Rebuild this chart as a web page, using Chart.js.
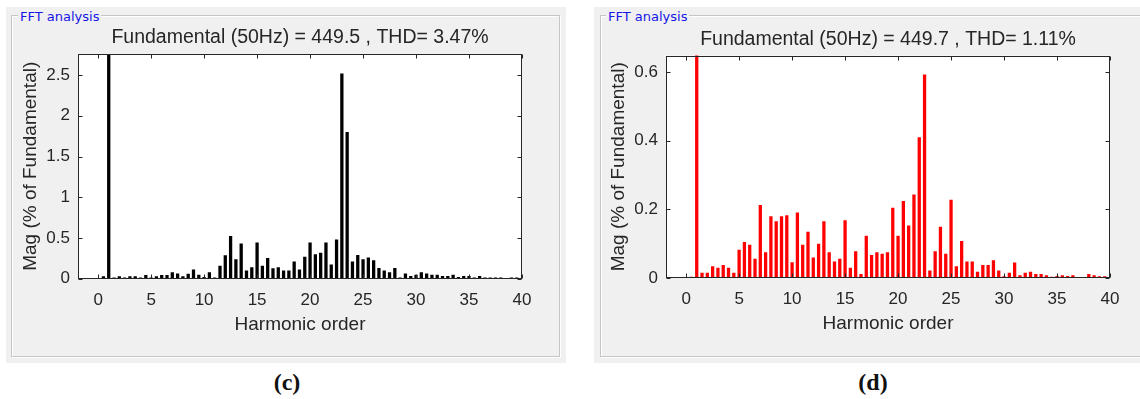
<!DOCTYPE html>
<html>
<head>
<meta charset="utf-8">
<script src="https://cdn.jsdelivr.net/npm/chart.js@4.4.1/dist/chart.umd.min.js"></script>
<style>
  html, body { margin:0; padding:0; background:#ffffff; }
  body { width:1140px; height:399px; position:relative; overflow:hidden; font-family:"Liberation Sans", Arial, sans-serif; }
  .panel { position:absolute; background:#f0f0f0; }
  .frame { position:absolute; border:1px solid #c6c6c6; box-shadow: inset 1px 1px 0 #ffffff, 1px 1px 0 #ffffff; }
  .legend { position:absolute; font-family:"DejaVu Sans", sans-serif; font-size:13px; color:#1515e6; background:#f0f0f0; padding:0 2px; line-height:14px; }
  canvas { position:absolute; }
  .cap { position:absolute; font-family:"Liberation Serif", "Times New Roman", serif; font-weight:bold; font-size:24px; color:#111; width:60px; text-align:center; }
</style>
</head>
<body>
<div class="panel" style="left:6px; top:7px; width:560px; height:356px;"></div>
<div class="frame" style="left:11px; top:15px; width:547px; height:340px;"></div>
<div class="legend" style="left:18px; top:10px;">FFT analysis</div>

<div class="panel" style="left:594px; top:7px; width:546px; height:356px;"></div>
<div class="frame" style="left:600px; top:15px; width:560px; height:340px;"></div>
<div class="legend" style="left:606px; top:10px;">FFT analysis</div>

<canvas id="chartC" width="560" height="356" style="left:6px; top:7px;"></canvas>
<canvas id="chartD" width="546" height="356" style="left:594px; top:7px;"></canvas>

<div class="cap" style="left:257px; top:369px;">(c)</div>
<div class="cap" style="left:843px; top:369px;">(d)</div>

<script>
// ---- data ----
const harmonics = [0,0.5,1,1.5,2,2.5,3,3.5,4,4.5,5,5.5,6,6.5,7,7.5,8,8.5,9,9.5,
  10,10.5,11,11.5,12,12.5,13,13.5,14,14.5,15,15.5,16,16.5,17,17.5,18,18.5,19,19.5,
  20,20.5,21,21.5,22,22.5,23,23.5,24,24.5,25,25.5,26,26.5,27,27.5,28,28.5,29,29.5,
  30,30.5,31,31.5,32,32.5,33,33.5,34,34.5,35,35.5,36,36.5,37,37.5,38,38.5,39,39.5,40];

const magC = [0.01,0.03,100,0.016,0.03,0.016,0.03,0.03,0.016,0.045,
  0.016,0.03,0.045,0.045,0.078,0.065,0.03,0.062,0.112,0.048,
  0.02,0.08,0.016,0.16,0.288,0.525,0.238,0.432,0.1,0.142,
  0.445,0.16,0.255,0.128,0.142,0.1,0.1,0.21,0.112,0.27,
  0.445,0.30,0.32,0.445,0.175,0.48,2.52,1.8,0.21,0.29,
  0.24,0.26,0.225,0.13,0.10,0.08,0.13,0.016,0.065,0.033,
  0.05,0.08,0.065,0.05,0.05,0.033,0.033,0.05,0.02,0.033,
  0.033,0.016,0.033,0.016,0.016,0.016,0.016,0.003,0.016,0.016,0.005];

const magD = [0.002,0.004,100,0.0155,0.0155,0.034,0.03,0.038,0.03,0.0155,
  0.082,0.105,0.097,0.056,0.213,0.075,0.18,0.165,0.18,0.183,
  0.046,0.191,0.097,0.135,0.06,0.10,0.165,0.075,0.048,0.056,
  0.168,0.03,0.078,0.012,0.123,0.067,0.075,0.071,0.075,0.205,
  0.123,0.224,0.153,0.243,0.41,0.593,0.022,0.078,0.149,0.071,
  0.228,0.034,0.108,0.048,0.048,0.018,0.038,0.038,0.052,0.022,
  0.005,0.015,0.045,0.008,0.015,0.018,0.012,0.012,0.008,0.004,
  0.006,0.008,0.006,0.008,0,0,0.012,0.008,0.005,0.005,0];

const xTicks = [0,5,10,15,20,25,30,35,40];
const yTicksC = [0,0.5,1,1.5,2,2.5];
const yTicksD = [0,0.2,0.4,0.6];

const titleC = 'Fundamental (50Hz) = 449.5 , THD= 3.47%';
const titleD = 'Fundamental (50Hz) = 449.7 , THD= 1.11%';

// ---- drawing ----
const FONT = '"Liberation Sans", Arial, Helvetica, sans-serif';
const TXT = '#262626';

const boxPlugin = {
  id: 'boxPlugin',
  beforeDatasetsDraw(chart) {
    const {ctx, chartArea: a} = chart;
    ctx.save();
    ctx.fillStyle = '#ffffff';
    ctx.fillRect(a.left, a.top, a.right - a.left, a.bottom - a.top);
    ctx.restore();
  },
  afterDatasetsDraw(chart) {
    const {ctx, chartArea: a, scales} = chart;
    const x = scales.x, y = scales.y;
    ctx.save();
    ctx.strokeStyle = TXT;
    ctx.lineWidth = 1;
    const L = Math.round(a.left) + 0.5, R = Math.round(a.right) - 0.5;
    const T = Math.round(a.top) + 0.5, B = Math.round(a.bottom) - 0.5;
    ctx.strokeRect(L, T, R - L, B - T);
    ctx.beginPath();
    x.ticks.forEach(t => {
      const px = Math.round(x.getPixelForValue(t.value)) + 0.5;
      ctx.moveTo(px, B); ctx.lineTo(px, B - 4);
      ctx.moveTo(px, T); ctx.lineTo(px, T + 4);
    });
    y.ticks.forEach(t => {
      const py = Math.round(y.getPixelForValue(t.value)) + 0.5;
      ctx.moveTo(L, py); ctx.lineTo(L + 4, py);
      ctx.moveTo(R, py); ctx.lineTo(R - 4, py);
    });
    ctx.stroke();
    ctx.restore();
  }
};

function makeChart(id, values, color, title, yTicks, yMax, cfg) {
  const pts = harmonics.map((h, i) => ({x: h, y: values[i]}));
  return new Chart(document.getElementById(id), {
    type: 'bar',
    data: { datasets: [{ data: pts, backgroundColor: color, borderWidth: 0,
      barPercentage: 0.62, categoryPercentage: 1.0 }] },
    plugins: [boxPlugin],
    options: {
      responsive: false, animation: false, devicePixelRatio: 1,
      layout: { padding: { left: 12, right: cfg.padRight, top: 0, bottom: 20 } },
      plugins: {
        legend: { display: false }, tooltip: { enabled: false },
        title: { display: true, text: title, color: TXT, fullSize: false, align: 'center',
          font: { family: FONT, size: 19.5, weight: 'normal', lineHeight: 1.2 },
          padding: { top: cfg.titleTop, bottom: cfg.titleBottom } }
      },
      scales: {
        x: {
          type: 'linear', min: -1.9, max: 40, offset: false,
          grid: { display: false, offset: false, drawTicks: false },
          border: { display: false },
          afterBuildTicks(s) { s.ticks = xTicks.map(v => ({value: v})); },
          afterFit(s) { s.height = cfg.xHeight; },
          ticks: { color: TXT, padding: 11, maxRotation: 0, autoSkip: false,
            font: { family: FONT, size: 17 }, callback: v => String(v) },
          title: { display: true, text: 'Harmonic order', color: TXT,
            font: { family: FONT, size: 19, lineHeight: 1.2 },
            padding: { top: 0, bottom: cfg.xTitleBottom } }
        },
        y: {
          type: 'linear', min: 0, max: yMax,
          grid: { display: false, drawTicks: false },
          border: { display: false },
          afterBuildTicks(s) { s.ticks = yTicks.map(v => ({value: v})); },
          afterFit(s) { s.width = 60; },
          ticks: { color: TXT, padding: 8, autoSkip: false,
            font: { family: FONT, size: 17 }, callback: v => String(v) },
          title: { display: true, text: 'Mag (% of Fundamental)', color: TXT,
            font: { family: FONT, size: 19, lineHeight: 1.2 },
            padding: { top: 1, bottom: 0 } }
        }
      }
    }
  });
}

makeChart('chartC', magC, '#000000', titleC, yTicksC, 2.76,
  { padRight: 44, titleTop: 19.3, titleBottom: 4.2, xHeight: 64.3, xTitleBottom: 6.6 });
makeChart('chartD', magD, '#ff0000', titleD, yTicksD, 0.648,
  { padRight: 30, titleTop: 20.9, titleBottom: 4.3, xHeight: 65, xTitleBottom: 7.6 });
</script>
</body>
</html>
